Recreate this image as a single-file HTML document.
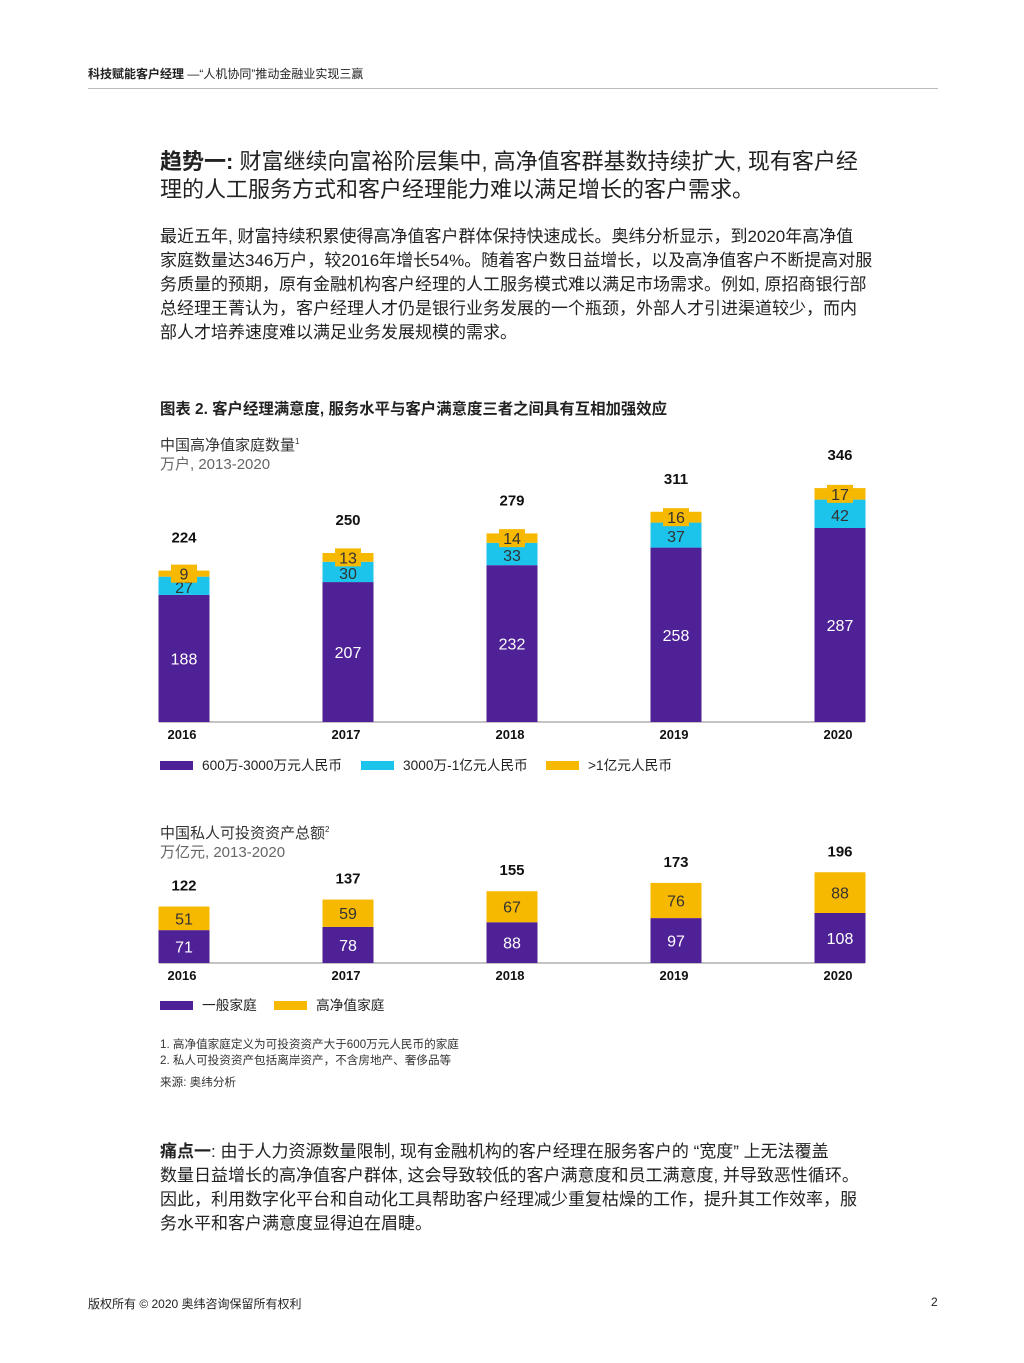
<!DOCTYPE html>
<html><head><meta charset="utf-8">
<style>
body{margin:0;width:1024px;height:1363px;background:#fff;font-family:"Liberation Sans","Noto Sans CJK SC",sans-serif;color:#222;position:relative;overflow:hidden}
.a{position:absolute;white-space:nowrap}
.hd{left:88px;top:65px;font-size:12px}
.rule{position:absolute;left:88px;top:88px;width:850px;height:1px;background:#bbb}
.h1{left:160px;font-size:22px;line-height:28px}
.p{left:160px;font-size:17px;line-height:24px}
.sm{font-size:11.6px;color:#333}
</style></head><body>
<div class="a hd"><b>科技赋能客户经理</b> —“人机协同”推动金融业实现三赢</div>
<div class="rule"></div>
<div class="a h1" style="top:148px"><b>趋势一:</b> 财富继续向富裕阶层集中, 高净值客群基数持续扩大, 现有客户经<br>理的人工服务方式和客户经理能力难以满足增长的客户需求。</div>
<div class="a p" style="top:225px">最近五年, 财富持续积累使得高净值客户群体保持快速成长。奥纬分析显示，到2020年高净值<br>家庭数量达346万户，较2016年增长54%。随着客户数日益增长，以及高净值客户不断提高对服<br>务质量的预期，原有金融机构客户经理的人工服务模式难以满足市场需求。例如, 原招商银行部<br>总经理王菁认为，客户经理人才仍是银行业务发展的一个瓶颈，外部人才引进渠道较少，而内<br>部人才培养速度难以满足业务发展规模的需求。</div>
<div class="a" style="left:160px;top:397px;font-size:15.4px;font-weight:bold">图表 2. 客户经理满意度, 服务水平与客户满意度三者之间具有互相加强效应</div>
<div class="a" style="left:160px;top:432px;font-size:15px;line-height:19px;color:#333">中国高净值家庭数量<sup style="font-size:8px">1</sup><br><span style="color:#666">万户, 2013-2020</span></div>
<div class="a" style="left:160px;top:820px;font-size:15px;line-height:19px;color:#333">中国私人可投资资产总额<sup style="font-size:8px">2</sup><br><span style="color:#666">万亿元, 2013-2020</span></div>
<svg id="ch" class="a" style="left:0;top:0" width="1024" height="1363"></svg>
<div class="a sm" style="left:160px;top:1037px;line-height:16px">1. 高净值家庭定义为可投资资产大于600万元人民币的家庭<br>2. 私人可投资资产包括离岸资产，不含房地产、奢侈品等</div>
<div class="a sm" style="left:160px;top:1074px">来源: 奥纬分析</div>
<div class="a p" style="top:1140px"><b>痛点一</b>: 由于人力资源数量限制, 现有金融机构的客户经理在服务客户的 “宽度” 上无法覆盖<br>数量日益增长的高净值客户群体, 这会导致较低的客户满意度和员工满意度, 并导致恶性循环。<br>因此，利用数字化平台和自动化工具帮助客户经理减少重复枯燥的工作，提升其工作效率，服<br>务水平和客户满意度显得迫在眉睫。</div>
<div class="a" style="left:88px;top:1295px;font-size:12px">版权所有 © 2020 奥纬咨询保留所有权利</div>
<div class="a" style="left:931px;top:1295px;font-size:12px">2</div>
<script>
const years=["2016","2017","2018","2019","2020"];
const hnwLow=[188,207,232,258,287];
const hnwMid=[27,30,33,37,42];
const hnwHigh=[9,13,14,16,17];
const hnwTotal=[224,250,279,311,346];
const assetGeneral=[71,78,88,97,108];
const assetHnw=[51,59,67,76,88];
const assetTotal=[122,137,155,173,196];
const P="#4F2196",C="#1CC3EA",Y="#F7B800";
const svg=document.getElementById('ch');const NS="http://www.w3.org/2000/svg";
function mk(t,a,txt){const e=document.createElementNS(NS,t);for(const k in a)e.setAttribute(k,a[k]);if(txt!=null)e.textContent=txt;svg.appendChild(e);return e;}
const xC=i=>184+i*164;const BW=51;
// chart 1
const b1=722,s1=0.676;const y1=v=>b1-v*s1;
mk('line',{x1:159,x2:865,y1:b1,y2:b1,stroke:'#888','stroke-width':1});
years.forEach((yr,i)=>{
 const x=xC(i)-BW/2;let acc=0;
 [[hnwLow,P,'#fff'],[hnwMid,C,'#333'],[hnwHigh,Y,'#333']].forEach(([arr,col,tc],k)=>{
  const v=arr[i];const r=mk('rect',{x:x,y:y1(acc+v),width:BW,height:v*s1,fill:col});
  
  
  const mid=y1(acc+v/2);
  if(k==2){const bg=mk('rect',{x:xC(i)-13,y:mid-9,width:26,height:18,fill:Y});}
  const ty=k==0?mid+6:(k==1?mid+7:mid+6);
  const t=mk('text',{x:xC(i),y:ty,'text-anchor':'middle','font-size':16,fill:tc},v);
  
  acc+=v;});
 const tt=mk('text',{x:xC(i),y:y1(hnwTotal[i])-28,'text-anchor':'middle','font-size':15,'font-weight':'bold',fill:'#111'},hnwTotal[i]);
 
 const xl=mk('text',{x:xC(i)-2,y:739,'text-anchor':'middle','font-size':13,'font-weight':'bold',fill:'#111'},yr);
 
});
[[160,P,'600万-3000万元人民币'],[361,C,'3000万-1亿元人民币'],[546,Y,'>1亿元人民币']].forEach(([x,c,l])=>{
 const r=mk('rect',{x:x,y:761,width:33,height:9,fill:c});
 const t=mk('text',{x:x+42,y:770,'font-size':13.7,fill:'#222'},l);});
// chart 2
const b2=963,s2=0.463;const y2=v=>b2-v*s2;
mk('line',{x1:159,x2:865,y1:b2,y2:b2,stroke:'#888','stroke-width':1});
years.forEach((yr,i)=>{
 const x=xC(i)-BW/2;const g=assetGeneral[i],h=assetHnw[i];
 const r1=mk('rect',{x:x,y:y2(g),width:BW,height:g*s2,fill:P});
 const r2=mk('rect',{x:x,y:y2(g+h),width:BW,height:h*s2,fill:Y});
 const t1=mk('text',{x:xC(i),y:y2(g/2)+6,'text-anchor':'middle','font-size':16,fill:'#fff'},g);
 const t2=mk('text',{x:xC(i),y:y2(g+h/2)+6,'text-anchor':'middle','font-size':16,fill:'#333'},h);
 const tt=mk('text',{x:xC(i),y:y2(assetTotal[i])-16,'text-anchor':'middle','font-size':15,'font-weight':'bold',fill:'#111'},assetTotal[i]);
 const xl=mk('text',{x:xC(i)-2,y:980,'text-anchor':'middle','font-size':13,'font-weight':'bold',fill:'#111'},yr);
});
[[160,P,'一般家庭'],[274,Y,'高净值家庭']].forEach(([x,c,l])=>{
 const r=mk('rect',{x:x,y:1001,width:33,height:9,fill:c});
 const t=mk('text',{x:x+42,y:1010,'font-size':13.7,fill:'#222'},l);});
</script>
</body></html>
